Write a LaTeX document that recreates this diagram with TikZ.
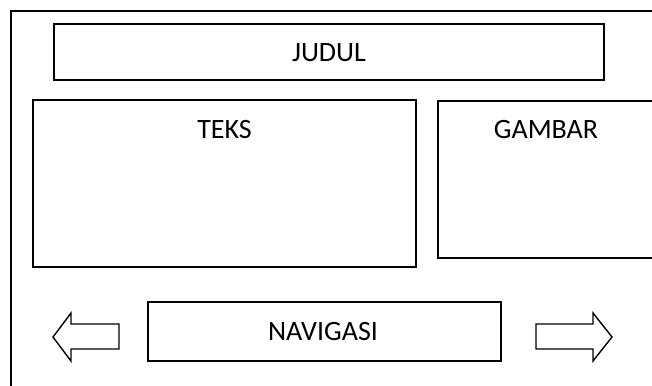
\documentclass[tikz,border=0pt]{standalone}
\usepackage{fontspec}
\setmainfont{Carlito}
\begin{document}
\begin{tikzpicture}[x=1pt,y=-1pt,
  frame/.style={draw=black,line width=1.4pt},
  lbl/.style={font=\fontsize{28}{30}\selectfont,inner sep=0pt,anchor=base}]
\useasboundingbox (0,0) rectangle (652,385);
\clip (0,0) rectangle (652,385);
% outer frame (top and left only)
\draw[frame] (11,395) -- (11,11) -- (665,11);
% title
\draw[frame] (54,24) rectangle (604,80);
\node[lbl] (judul) at (329,62) {JUDUL};
% text box
\draw[frame] (33,100) rectangle (416,267);
\node[lbl] (teks) at (224.5,138) {TEKS};
% picture box
\draw[frame] (438,101) rectangle (670,258);
\node[lbl] (gambar) at (546,138) {GAMBAR};
% navigation
\draw[frame] (148,302) rectangle (501,361);
\node[lbl] (nav) at (323,340) {NAVIGASI};
% arrows
\draw[frame,line join=miter] (53,337) -- (71,313) -- (71,324) -- (119,324) -- (119,349) -- (71,349) -- (71,361) -- cycle;
\draw[frame,line join=miter] (612,337) -- (593,313) -- (593,324) -- (536,324) -- (536,349) -- (593,349) -- (593,361) -- cycle;
\end{tikzpicture}
\end{document}
